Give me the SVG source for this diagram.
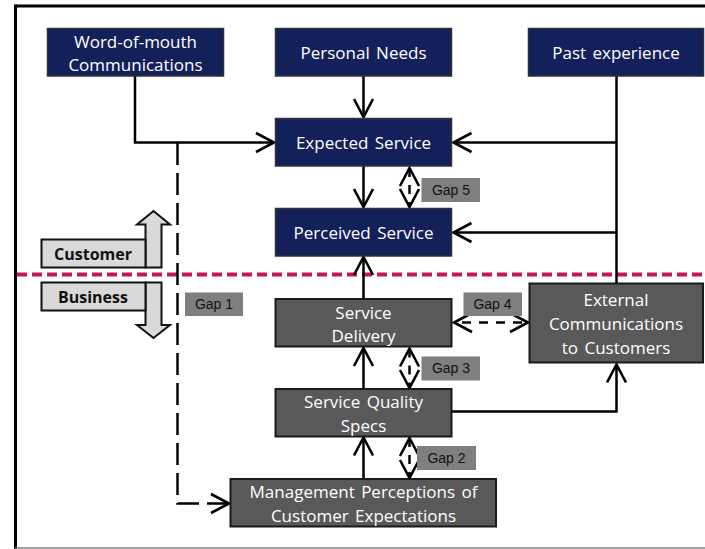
<svg xmlns="http://www.w3.org/2000/svg" width="705" height="549" viewBox="0 0 705 549">
  <defs>
    <style>
      .navy { fill: #14205a; stroke: #333; stroke-width: 1.5; }
      .dark { fill: #595959; stroke: #1a1a1a; stroke-width: 2; }
      .lbl { font-family: "Open Sans", "Noto Sans", sans-serif; font-size: 17px; word-spacing: 2px; fill: #fff; text-anchor: middle; }
      .gap rect { fill: #7f7f7f; }
      .gap text { font-family: "Liberation Sans", Arial, sans-serif; font-size: 14px; fill: #111; text-anchor: middle; }
      .side rect, .side polygon { fill: #d9d9d9; stroke: #111; stroke-width: 2; }
      .side text { font-family: "Open Sans", "Noto Sans", sans-serif; font-size: 16px; font-weight: bold; fill: #111; text-anchor: middle; }
      .conn { fill: none; stroke: #000; stroke-width: 2.5; }
      .dash { stroke-dasharray: 22 8; }
      .gapline { fill: none; stroke: #000; stroke-width: 2.5; stroke-dasharray: 9 8; }
    </style>
    <marker id="arr" markerUnits="userSpaceOnUse" markerWidth="26" markerHeight="26" viewBox="-22 -13 26 26" refX="0" refY="0" orient="auto-start-reverse">
      <path d="M-18,-9.5 L0,0 L-18,9.5" fill="none" stroke="#000" stroke-width="2.6"/>
    </marker>
  </defs>

  <!-- frame -->
  <rect x="0" y="0" width="705" height="549" fill="#fff"/>
  <line x1="15.5" y1="6" x2="705" y2="6" stroke="#000" stroke-width="3"/>
  <line x1="15.5" y1="4.5" x2="15.5" y2="549" stroke="#000" stroke-width="3"/>
  <line x1="15" y1="548" x2="705" y2="548" stroke="#808080" stroke-width="1.5"/>

  <!-- customer / business divide -->
  <line x1="17" y1="274.5" x2="705" y2="274.5" stroke="#c8145a" stroke-width="4" stroke-dasharray="10 5"/>

  <g id="customer-side" class="side">
    <polygon points="145.5,267.5 145.5,224.5 137,224.5 153.5,211 170,224.5 161.5,224.5 161.5,267.5"/>
    <rect x="41.5" y="239.5" width="104" height="28"/>
    <text x="93" y="260">Customer</text>
  </g>
  <g id="business-side" class="side">
    <polygon points="145.5,282.5 145.5,325 137,325 153.5,338 170,325 161.5,325 161.5,282.5"/>
    <rect x="41.5" y="282.5" width="104" height="28"/>
    <text x="93" y="302.5">Business</text>
  </g>

  <!-- connectors -->
  <g id="connectors">
    <polyline class="conn" points="135,76 135,142.5 274,142.5" marker-end="url(#arr)"/>
    <line class="conn" x1="363.5" y1="76" x2="363.5" y2="117" marker-end="url(#arr)"/>
    <line class="conn" x1="616.5" y1="76" x2="616.5" y2="283"/>
    <line class="conn" x1="616.5" y1="142.5" x2="453.5" y2="142.5" marker-end="url(#arr)"/>
    <line class="conn" x1="616.5" y1="232.5" x2="453.5" y2="232.5" marker-end="url(#arr)"/>
    <line class="conn" x1="363.5" y1="166" x2="363.5" y2="207" marker-end="url(#arr)"/>
    <line class="conn" x1="363.5" y1="299" x2="363.5" y2="257" marker-end="url(#arr)"/>
    <line class="conn" x1="363.5" y1="389" x2="363.5" y2="348" marker-end="url(#arr)"/>
    <line class="conn" x1="363.5" y1="479" x2="363.5" y2="437.5" marker-end="url(#arr)"/>
    <polyline class="conn" points="452,411.5 616.5,411.5 616.5,364.5" marker-end="url(#arr)"/>
    <polyline class="conn dash" points="177.5,143 177.5,503.5 229,503.5" marker-end="url(#arr)"/>
    <line class="gapline" x1="409.5" y1="168" x2="409.5" y2="207" marker-start="url(#arr)" marker-end="url(#arr)"/>
    <line class="gapline" x1="409.5" y1="348.5" x2="409.5" y2="388" marker-start="url(#arr)" marker-end="url(#arr)"/>
    <line class="gapline" x1="409.5" y1="438" x2="409.5" y2="478" marker-start="url(#arr)" marker-end="url(#arr)"/>
    <line class="gapline" x1="454" y1="322.5" x2="528" y2="322.5" stroke-dasharray="11 8" stroke-dashoffset="-8" marker-start="url(#arr)" marker-end="url(#arr)"/>
  </g>

  <!-- customer-side nodes -->
  <g id="word-of-mouth">
    <rect class="navy" x="47.5" y="28.5" width="176" height="47.5"/>
    <text class="lbl" x="135.5" y="47.5">Word-of-mouth</text>
    <text class="lbl" x="135.5" y="71">Communications</text>
  </g>
  <g id="personal-needs">
    <rect class="navy" x="275.5" y="28.5" width="176" height="47.5"/>
    <text class="lbl" x="363.5" y="58.5">Personal Needs</text>
  </g>
  <g id="past-experience">
    <rect class="navy" x="528.5" y="28.5" width="175" height="47.5"/>
    <text class="lbl" x="616" y="58.5">Past experience</text>
  </g>
  <g id="expected-service">
    <rect class="navy" x="275.5" y="118.5" width="176" height="47.5"/>
    <text class="lbl" x="363.5" y="148.5">Expected Service</text>
  </g>
  <g id="perceived-service">
    <rect class="navy" x="275.5" y="208.5" width="176" height="47.5"/>
    <text class="lbl" x="363.5" y="238.5">Perceived Service</text>
  </g>

  <!-- business-side nodes -->
  <g id="service-delivery">
    <rect class="dark" x="275.5" y="299" width="176" height="47.5"/>
    <text class="lbl" x="363.5" y="318.5">Service</text>
    <text class="lbl" x="363.5" y="342">Delivery</text>
  </g>
  <g id="service-quality-specs">
    <rect class="dark" x="275.5" y="389" width="176" height="47.5"/>
    <text class="lbl" x="363.5" y="408">Service Quality</text>
    <text class="lbl" x="363.5" y="431.5">Specs</text>
  </g>
  <g id="management-perceptions">
    <rect class="dark" x="230.5" y="479" width="265.5" height="47.5"/>
    <text class="lbl" x="363.5" y="498" word-spacing="3.5">Management Perceptions of</text>
    <text class="lbl" x="363.5" y="522">Customer Expectations</text>
  </g>
  <g id="external-communications">
    <rect class="dark" x="529.5" y="283.5" width="173.5" height="79"/>
    <text class="lbl" x="616" y="306">External</text>
    <text class="lbl" x="616" y="329.5">Communications</text>
    <text class="lbl" x="616" y="353.5">to Customers</text>
  </g>

  <!-- gap labels -->
  <g id="gap1" class="gap"><rect x="185" y="292.5" width="58" height="23.5"/><text x="214" y="309">Gap 1</text></g>
  <g id="gap2" class="gap"><rect x="417" y="446" width="59" height="24"/><text x="446.5" y="462.5">Gap 2</text></g>
  <g id="gap3" class="gap"><rect x="421.5" y="356.5" width="58.5" height="24"/><text x="451" y="373">Gap 3</text></g>
  <g id="gap4" class="gap"><rect x="463.5" y="292.5" width="58.5" height="23.5"/><text x="492.5" y="309">Gap 4</text></g>
  <g id="gap5" class="gap"><rect x="421.5" y="178" width="58.5" height="24"/><text x="451" y="194.5">Gap 5</text></g>
</svg>
